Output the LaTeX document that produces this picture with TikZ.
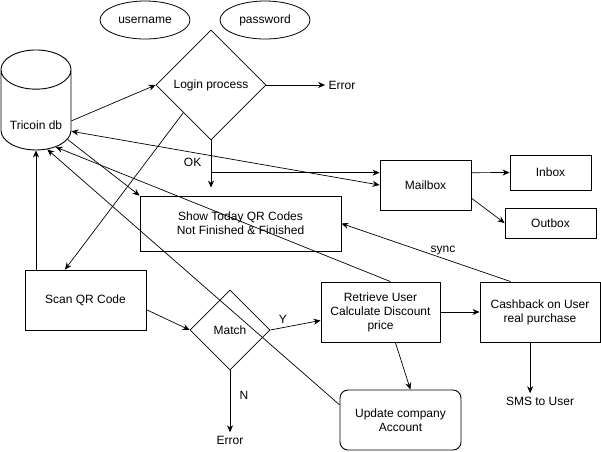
\documentclass[tikz,border=0pt]{standalone}
\usepackage{fontspec}
\setmainfont{Liberation Sans}
\usetikzlibrary{arrows.meta,positioning,shapes.geometric}

\begin{document}
\begin{tikzpicture}[x=1pt,y=1pt,node distance=2cm,on grid,auto,
    >={Stealth[length=7pt,width=6pt]},
    every node/.style={font=\fontsize{12}{14}\selectfont,align=center},
    box/.style={draw,rectangle,line width=0.9pt,inner sep=0pt},
    decision/.style={draw,diamond,line width=0.7pt,inner sep=0pt},
    ell/.style={draw,ellipse,line width=0.8pt,inner sep=0pt,minimum width=90pt,minimum height=38pt},
    db/.style={draw,cylinder,shape border rotate=90,aspect=0.75,line width=0.9pt,
      inner sep=0pt,minimum width=70pt,minimum height=100pt}]
      \useasboundingbox (0,0) rectangle (601,-451);
      \node[db] (db) at (36,-110) {\raisebox{-19pt}[0pt][0pt]{Tricoin db}};
      \node[decision,minimum size=110pt] (login) [above right=25pt and 175pt of db] {Login process};
      \node[ell] (user) [above left=65pt and 66pt of login] {username};
      \node[ell] (pass) [above right=65pt and 54pt of login] {password};
      \node (err_1) [right=131pt of login] {Error};
      \node[box,minimum width=201pt,minimum height=55pt] (show) [below right=138.5pt and 29.5pt of login] {Show Today QR Codes\\Not Finished \& Finished};
      \node[box,minimum width=91pt,minimum height=50pt] (mail) [below right=100pt and 214.5pt of login] {Mailbox};
      \node[box,minimum width=81pt,minimum height=35pt] (inbox) [above right=12.5pt and 125pt of mail] {Inbox};
      \node[box,minimum width=91pt,minimum height=30pt] (outbox) [below right=38pt and 125pt of mail] {Outbox};
      \node[box,minimum width=121pt,minimum height=60pt] (scan) [below right=190pt and 49.5pt of db] {Scan QR Code};
      \node[decision,minimum size=80pt] (match) [below right=30pt and 144.5pt of scan] {Match};
      \node (err_2) [below=110pt of match] {Error};
      \node[box,minimum width=119pt,minimum height=60pt] (retrieve) [above right=18pt and 150.5pt of match] {Retrieve User\\Calculate Discount\\price};
      \node[box,minimum width=120pt,minimum height=60pt] (cash) [right=159.5pt of retrieve] {Cashback on User\\real purchase};
      \node (sms) [below=89pt of cash] {SMS to User};
      \node[box,rounded corners=8pt,minimum width=121pt,minimum height=60pt] (update) [below right=108pt and 20pt of retrieve] {Update company\\Account};
        \path[->,line width=0.7pt]
          (db.-17) edge (login.west)
          (login.east) edge (err_1)
          (login.south west) edge (scan.124)
          (login.south) edge [shorten >=8pt] node [left=6pt,pos=0.4] {OK} (login.south |- show.north)
          (login.south |- mail.165) edge (mail.165)
          (db.-31) edge [<->] (mail.west)
          (db.-43) edge (show.north west)
          (mail.15) edge (inbox.west)
          (mail.-16) edge (outbox.west)
          (cash.134) edge node [above,pos=0.4] {sync} (show.east)

          (scan.north -| db.south) edge (db.south)
          (scan.-9) edge (match.west)
          (match.east) edge node [above,pos=0.25] {Y} (retrieve.188)
          (match.south) edge node [right=6pt,pos=0.4] {N} (err_2)
          (retrieve.east) edge (cash.west)
          (cash.-108) edge (cash.-108 |- sms.north)
          (retrieve.-64) edge (update.72)
          (update.166) edge (db.-74)
          (retrieve.72) edge (db.-62);
    \end{tikzpicture}
\end{document}
